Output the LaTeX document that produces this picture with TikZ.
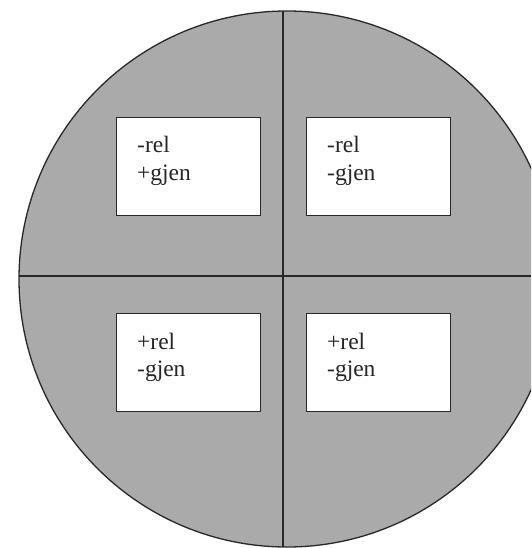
\documentclass[tikz,border=0pt]{standalone}
\usepackage{fontspec}
\setmainfont{Liberation Serif}
\definecolor{disc}{RGB}{170,170,170}
\definecolor{edge}{RGB}{40,40,40}
\tikzset{
  boxnode/.style={draw=edge, line width=1.2pt, fill=white, minimum width=144pt, minimum height=98pt, inner sep=0pt, anchor=north west},
  lbl/.style={anchor=base west, inner sep=0pt, text=black!85, font=\fontsize{23.5}{27}\selectfont}
}
\begin{document}
\begin{tikzpicture}[x=1pt,y=-1pt]
\useasboundingbox (0,0) rectangle (531,548);
\begin{scope}
\clip (0,0) rectangle (531,548);
\fill[disc] (287,279) circle [radius=268];
\begin{scope}
\clip (287,279) circle [radius=268];
\draw[edge, line width=1.1pt] (283,0) -- (283,548);
\draw[edge, line width=1.1pt] (0,276) -- (531,276);
\end{scope}
\draw[edge, line width=1.3pt] (287,279) circle [radius=268];
\end{scope}
\node[boxnode] (tl) at (116,117) {};
\node[boxnode] (tr) at (306,117) {};
\node[boxnode] (bl) at (116,313) {};
\node[boxnode] (br) at (306,313) {};
\node[lbl] (tl1) at (137,153) {-rel};
\node[lbl] (tl2) at (137,180) {+gjen};
\node[lbl] (tr1) at (327,153) {-rel};
\node[lbl] (tr2) at (327,180) {-gjen};
\node[lbl] (bl1) at (137,349) {+rel};
\node[lbl] (bl2) at (137,376) {-gjen};
\node[lbl] (br1) at (327,349) {+rel};
\node[lbl] (br2) at (327,376) {-gjen};
\end{tikzpicture}
\end{document}
